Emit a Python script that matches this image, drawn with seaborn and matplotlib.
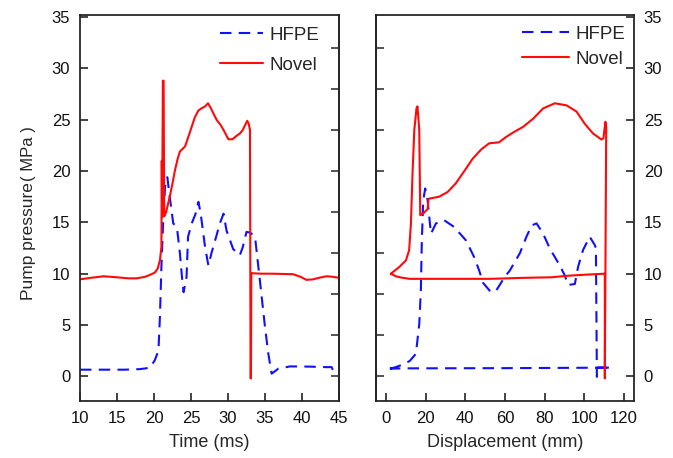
import numpy as np
import pandas as pd
import matplotlib
matplotlib.use("Agg")
import matplotlib.pyplot as plt
import seaborn as sns

# ---------------- data ----------------
# Left panel: pressure vs time
time_novel = [10.0, 11.5, 13.2, 15.0, 16.5, 17.7, 18.8, 19.5, 20.1, 20.5, 20.8, 21.0, 21.05, 21.1,
              21.2, 21.3, 21.38, 21.5, 21.6, 21.9, 22.16, 22.5, 22.84, 23.2, 23.5, 24.2, 24.86, 25.5,
              26.0, 26.4, 26.9, 27.3, 27.7, 28.1, 28.5, 29.0, 29.4, 30.05, 30.6, 31.1, 31.6, 32.0,
              32.3, 32.6, 32.8, 32.97, 33.05, 33.1, 33.15, 34.5, 36.0, 38.8, 39.8, 40.6, 41.5, 42.3,
              43.3, 44.2, 45.0]
p_time_novel = [9.45, 9.6, 9.75, 9.65, 9.55, 9.55, 9.7, 9.9, 10.1, 10.5, 11.3, 12.6, 21.0, 15.5,
                28.8, 28.8, 15.6, 15.8, 15.9, 16.8, 17.6, 18.8, 20.1, 21.2, 21.9, 22.4, 23.8, 25.2,
                25.9, 26.1, 26.3, 26.6, 26.1, 25.5, 24.95, 24.5, 24.0, 23.1, 23.1, 23.4, 23.65, 24.0,
                24.46, 24.9, 24.6, 24.0, -0.2, -0.2, 10.05, 10.0, 10.0, 9.95, 9.7, 9.4, 9.45, 9.6,
                9.75, 9.7, 9.6]

time_hfpe = [10.0, 12.0, 14.0, 16.0, 18.0, 18.6, 19.46, 20.1, 20.6, 20.8, 21.0, 21.26, 21.5, 21.8,
             22.16, 22.6, 23.1, 23.5, 23.8, 24.0, 24.4, 24.6, 25.1, 25.6, 26.0, 26.3, 26.9, 27.35,
             27.8, 28.4, 28.9, 29.4, 29.8, 30.7, 31.6, 32.0, 32.5, 33.0, 33.65, 34.3, 35.0, 35.45,
             35.9, 36.8, 38.4, 41.0, 43.3, 44.0, 44.5]
p_time_hfpe = [0.65, 0.65, 0.65, 0.65, 0.7, 0.75, 0.85, 1.56, 2.5, 5.8, 10.65, 15.5, 18.5, 19.4,
               17.3, 14.9, 14.5, 12.0, 9.5, 8.2, 9.7, 13.6, 14.9, 15.8, 17.0, 15.9, 12.6, 10.8,
               12.1, 13.6, 14.9, 15.85, 14.2, 12.4, 11.8, 12.6, 14.07, 14.0, 13.6, 9.4, 4.8, 2.2,
               0.26, 0.75, 0.97, 0.95, 0.9, 0.9, 0.1]

# Right panel: pressure vs displacement
disp_novel = [2.5, 6.7, 10.1, 11.7, 12.6, 13.4, 14.3, 15.4, 15.9, 16.8, 17.3, 19.0, 21.0, 21.5,
              26.8, 31.1, 35.2, 39.5, 43.7, 48.0, 52.0, 57.0, 60.4, 64.5, 69.1, 74.2, 79.2, 85.1,
              91.0, 96.0, 100.2, 104.4, 108.6, 109.6, 110.1, 110.6, 111.0, 110.3, 110.3, 100.0,
              91.5, 83.4, 70.0, 52.4, 30.0, 12.0, 8.4, 5.0, 2.5]
p_disp_novel = [10.0, 10.65, 11.3, 12.3, 14.9, 19.75, 24.0, 26.1, 26.3, 24.0, 15.7, 15.9, 16.3, 17.3,
                17.5, 17.96, 18.8, 20.0, 21.2, 22.1, 22.7, 22.8, 23.3, 23.8, 24.3, 25.1, 26.1, 26.6,
                26.4, 25.8, 24.6, 23.65, 23.07, 23.2, 24.0, 24.8, 24.3, -0.2, 10.0, 9.9,
                9.8, 9.65, 9.6, 9.5, 9.5, 9.5, 9.6, 9.75, 10.0]

disp_hfpe = [2.0, 5.0, 8.7, 12.0, 15.1, 16.8, 17.6, 18.1, 18.8, 19.8, 21.0, 22.7, 25.2, 29.4, 34.4,
             40.3, 44.5, 47.0, 49.0, 52.9, 55.7, 59.9, 62.4, 67.5, 70.8, 73.4, 75.9, 79.2, 82.6,
             87.6, 90.1, 91.8, 95.2, 96.8, 99.3, 102.7, 105.2, 105.8, 106.3, 106.6, 113.6, 60.0,
             10.0, 2.0]
p_disp_hfpe = [0.75, 0.9, 1.17, 1.5, 2.2, 5.1, 8.4, 13.25, 17.15, 18.3, 17.15, 13.9, 14.9, 15.2, 14.55,
               13.25, 11.6, 10.3, 9.1, 8.2, 8.4, 9.7, 10.3, 12.0, 13.6, 14.7, 14.9, 13.9, 12.45,
               10.8, 9.85, 8.9, 9.0, 10.65, 12.3, 13.6, 12.8, 12.5, -0.05, 0.85, 0.85, 0.8,
               0.78, 0.75]

series_names = ["HFPE", "Novel"]
time_ticks = [10, 15, 20, 25, 30, 35, 40, 45]
disp_ticks = [0, 20, 40, 60, 80, 100, 120]
pressure_ticks = [0, 5, 10, 15, 20, 25, 30, 35]
inner_ticks = [0, 4, 8, 12, 16, 20, 24, 28, 32]

# ---------------- style ----------------
sns.set_style("ticks")
plt.rcParams["font.family"] = ["Liberation Sans", "DejaVu Sans"]
plt.rcParams["axes.linewidth"] = 1.3

df_time = pd.DataFrame({
    "x": time_hfpe + time_novel,
    "p": p_time_hfpe + p_time_novel,
    "series": ["HFPE"] * len(time_hfpe) + ["Novel"] * len(time_novel),
})
df_disp = pd.DataFrame({
    "x": disp_hfpe + disp_novel,
    "p": p_disp_hfpe + p_disp_novel,
    "series": ["HFPE"] * len(disp_hfpe) + ["Novel"] * len(disp_novel),
})

palette = {"HFPE": "#1010ff", "Novel": "#ff0a0a"}
dashes = {"HFPE": (5.5, 3.5), "Novel": ""}

W, H = 673, 458
fig = plt.figure(figsize=(W / 100, H / 100), dpi=100)
axL = fig.add_axes([80 / W, 1 - 401 / H, (339 - 80) / W, (401 - 15) / H])
axR = fig.add_axes([376 / W, 1 - 401 / H, (634 - 376) / W, (401 - 15) / H])

for ax, df in ((axL, df_time), (axR, df_disp)):
    sns.lineplot(data=df, x="x", y="p", hue="series", style="series",
                 hue_order=series_names, style_order=series_names,
                 palette=palette, dashes=dashes, sort=False, estimator=None,
                 linewidth=1.5, ax=ax)

ylim = (-2.4, 35.2)
tick_kw = dict(direction="in", length=5.5, width=1.1, labelsize=12,
               colors="#111111")

# Left panel
axL.set_xlim(10, 45)
axL.set_ylim(*ylim)
axL.set_xticks(time_ticks)
axL.set_yticks(pressure_ticks)
axL.tick_params(axis="both", **tick_kw, pad=7)
axL.set_xlabel("Time (ms)", fontsize=13, labelpad=6)
axL.set_ylabel("")
secL = axL.secondary_yaxis("right")
secL.set_yticks(inner_ticks)
secL.tick_params(direction="in", length=5.5, width=1.1, labelright=False)

# Right panel
axR.set_xlim(-5, 125)
axR.set_ylim(*ylim)
axR.set_xticks(disp_ticks)
axR.set_yticks(pressure_ticks)
axR.yaxis.tick_right()
axR.tick_params(axis="both", **tick_kw, pad=7)
axR.set_xlabel("Displacement (mm)", fontsize=13, labelpad=6)
axR.set_ylabel("")
secR = axR.secondary_yaxis("left")
secR.set_yticks(inner_ticks)
secR.tick_params(direction="in", length=5.5, width=1.1, labelleft=False)

for ax in (axL, axR):
    for s in ax.spines.values():
        s.set_visible(True)
        s.set_linewidth(1.3)

sns.move_legend(axL, "upper right", bbox_to_anchor=(0.925, 0.97), title=None,
                frameon=False, fontsize=13.5, handlelength=2.3, handletextpad=0.35,
                labelspacing=0.7, borderpad=0.0, borderaxespad=0.0)
sns.move_legend(axR, "upper right", bbox_to_anchor=(0.965, 0.972), title=None,
                frameon=False, fontsize=13.5, handlelength=2.5, handletextpad=0.35,
                labelspacing=0.42, borderpad=0.0, borderaxespad=0.0)

# y label with smaller unit text
fig.text(28 / W, 1 - 300 / H, "Pump pressure", rotation=90, fontsize=12.5,
         ha="center", va="bottom")
fig.text(28 / W, 1 - 181 / H, "( MPa )", rotation=90, fontsize=12,
         ha="center", va="bottom")

fig.savefig("out.png", dpi=100)
